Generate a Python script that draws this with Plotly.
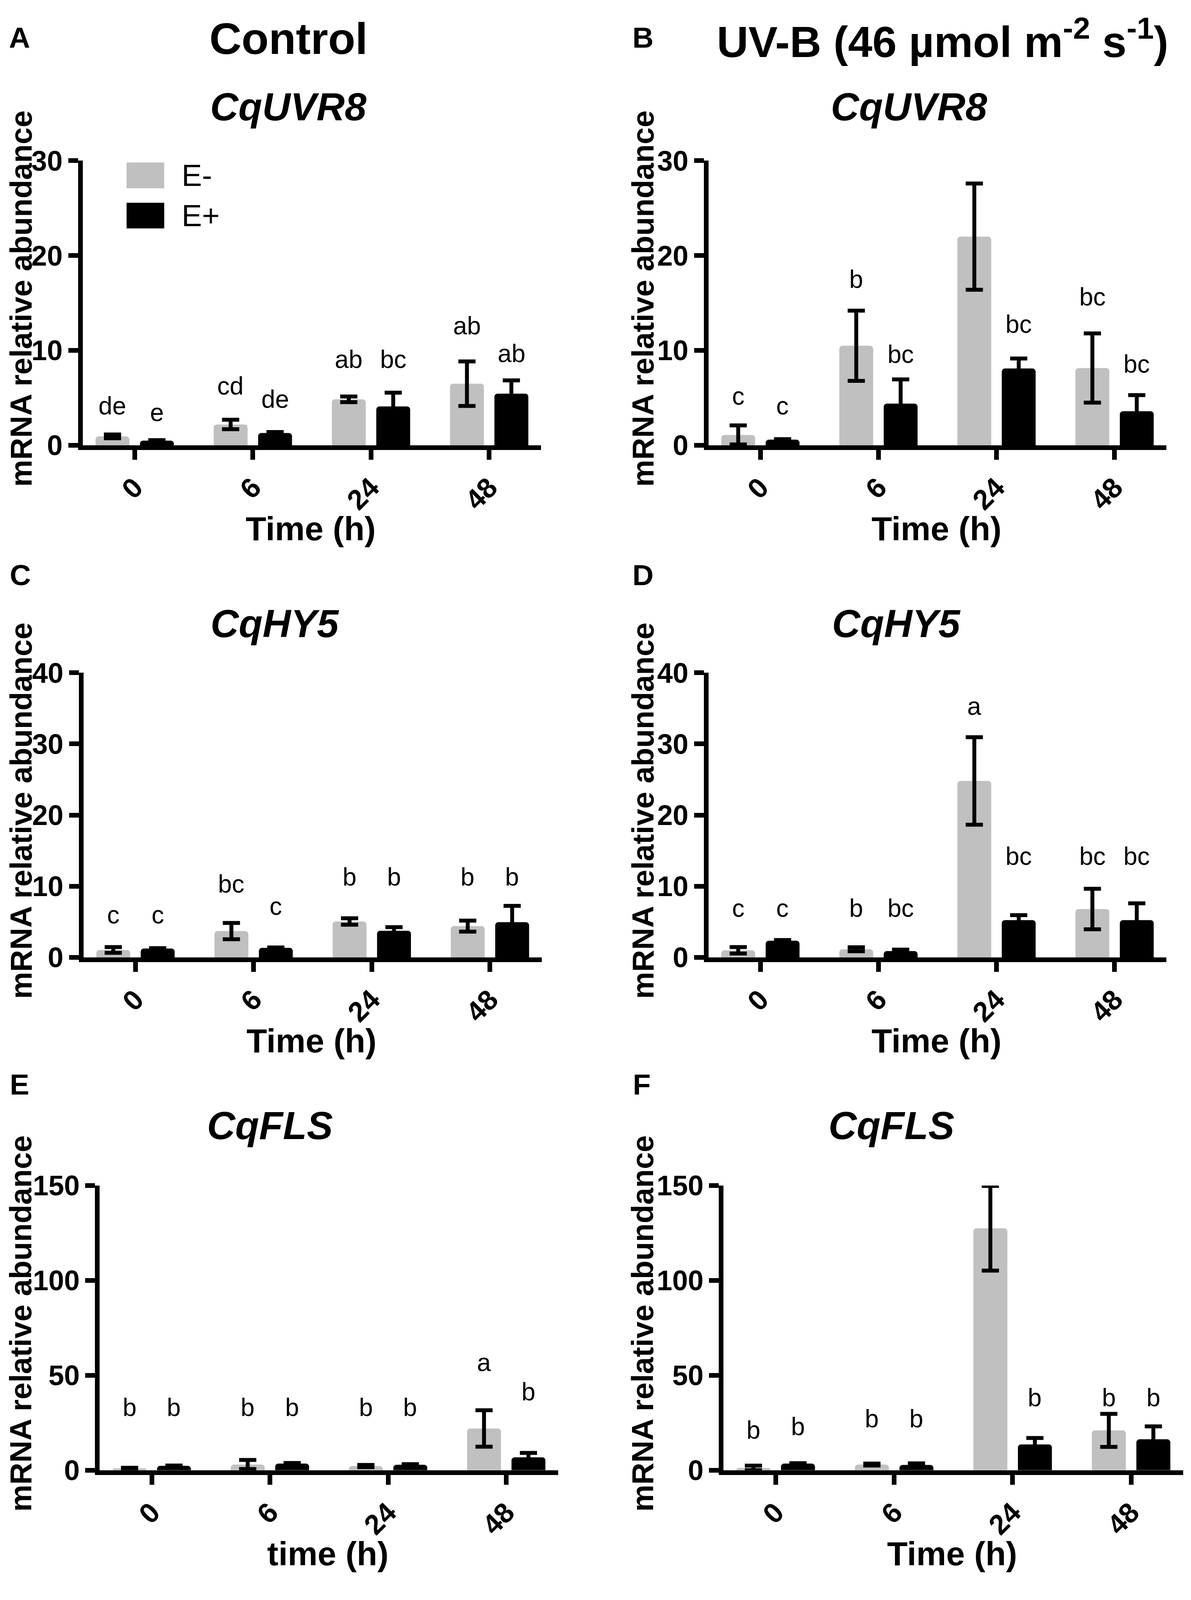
import plotly.graph_objects as go

# x categories (hours) and the two groups
times = ["0", "6", "24", "48"]
groups = ["E-", "E+"]

# A - Control, CqUVR8
a_mean_neg = [0.95, 2.2, 4.85, 6.5]
a_err_neg = [0.2, 0.5, 0.3, 2.35]
a_mean_pos = [0.5, 1.3, 4.1, 5.45]
a_err_pos = [0.05, 0.1, 1.45, 1.4]
a_sig_neg = ["de", "cd", "ab", "ab"]
a_sig_pos = ["e", "de", "bc", "ab"]
a_sig_y_neg = [4.15, 6.26, 9.07, 12.6]
a_sig_y_pos = [3.45, 4.85, 9.07, 9.67]

# B - UV-B, CqUVR8
b_mean_neg = [1.1, 10.5, 22.0, 8.15]
b_err_neg = [1.0, 3.7, 5.6, 3.65]
b_mean_pos = [0.6, 4.4, 8.1, 3.6]
b_err_pos = [0.05, 2.55, 1.05, 1.7]
b_sig_neg = ["c", "b", "a", "bc"]
b_sig_pos = ["c", "bc", "bc", "bc"]
b_sig_y_neg = [5.2, 17.5, 30.9, 15.65]
b_sig_y_pos = [4.15, 9.6, 12.77, 8.55]

# C - Control, CqHY5
c_mean_neg = [1.05, 3.7, 5.05, 4.4]
c_err_neg = [0.4, 1.15, 0.45, 0.78]
c_mean_pos = [1.25, 1.35, 3.75, 4.95]
c_err_pos = [0.05, 0.05, 0.5, 2.3]
c_sig_neg = ["c", "bc", "b", "b"]
c_sig_pos = ["c", "c", "b", "b"]
c_sig_y_neg = [6.0, 10.3, 11.3, 11.3]
c_sig_y_pos = [6.0, 7.2, 11.3, 11.3]

# D - UV-B, CqHY5
d_mean_neg = [1.0, 1.15, 24.8, 6.8]
d_err_neg = [0.45, 0.28, 6.15, 2.85]
d_mean_pos = [2.35, 0.9, 5.25, 5.25]
d_err_pos = [0.1, 0.2, 0.7, 2.35]
d_sig_neg = ["c", "b", "a", "bc"]
d_sig_pos = ["c", "bc", "bc", "bc"]
d_sig_y_neg = [6.9, 6.9, 35.3, 14.2]
d_sig_y_pos = [6.9, 6.9, 14.2, 14.2]

# E - Control, CqFLS
e_mean_neg = [1.0, 3.0, 2.2, 22.0]
e_err_neg = [0.3, 2.4, 0.6, 9.6]
e_mean_pos = [2.3, 3.5, 2.9, 6.8]
e_err_pos = [0.2, 0.3, 0.3, 2.3]
e_sig_neg = ["b", "b", "b", "a"]
e_sig_pos = ["b", "b", "b", "b"]
e_sig_y_neg = [33.0, 33.0, 33.0, 56.7]
e_sig_y_pos = [33.0, 33.0, 33.0, 41.3]

# F - UV-B, CqFLS
f_mean_neg = [1.2, 3.0, 127.5, 21.0]
f_err_neg = [1.2, 0.5, 22.3, 8.7]
f_mean_pos = [3.5, 2.8, 13.6, 16.3]
f_err_pos = [0.2, 0.8, 3.4, 6.8]
f_sig_neg = ["b", "b", "a", "b"]
f_sig_pos = ["b", "b", "b", "b"]
f_sig_y_neg = [21.2, 27.2, 158.5, 38.3]
f_sig_y_pos = [23.1, 27.2, 38.3, 38.3]

# reference page size (positions below are measured on it) and the drawn size
REF_W, REF_H = 3049, 4293
FIG_W, FIG_H = 3030, 4060
FONT = "Liberation Sans"
GREY = "#c0c0c0"
BARGAP = 0.248
GROUPGAP = 0.237


def fx(p):
    return p / REF_W


def fy(p):
    return 1 - p / REF_H


# layout of each panel, in reference pixels
panels = [
    dict(tag="A", gene="CqUVR8", xdom=(205, 1386), ydom=(392, 1178), ymax=30, dtick=10,
         xtitle="Time (h)", ytitle_x=46, gene_pos=(735, 243), tag_pos=(42, 52),
         neg=(a_mean_neg, a_err_neg, a_sig_neg, a_sig_y_neg),
         pos=(a_mean_pos, a_err_pos, a_sig_pos, a_sig_y_pos)),
    dict(tag="B", gene="CqUVR8", xdom=(1817, 2997), ydom=(392, 1178), ymax=30, dtick=10,
         xtitle="Time (h)", ytitle_x=1648, gene_pos=(2334, 243), tag_pos=(1648, 52),
         neg=(b_mean_neg, b_err_neg, b_sig_neg, b_sig_y_neg),
         pos=(b_mean_pos, b_err_pos, b_sig_pos, b_sig_y_pos)),
    dict(tag="C", gene="CqHY5", xdom=(207, 1388), ydom=(1806, 2592), ymax=40, dtick=10,
         xtitle="Time (h)", ytitle_x=46, gene_pos=(700, 1670), tag_pos=(44, 1536),
         neg=(c_mean_neg, c_err_neg, c_sig_neg, c_sig_y_neg),
         pos=(c_mean_pos, c_err_pos, c_sig_pos, c_sig_y_pos)),
    dict(tag="D", gene="CqHY5", xdom=(1817, 2997), ydom=(1806, 2592), ymax=40, dtick=10,
         xtitle="Time (h)", ytitle_x=1648, gene_pos=(2301, 1670), tag_pos=(1648, 1536),
         neg=(d_mean_neg, d_err_neg, d_sig_neg, d_sig_y_neg),
         pos=(d_mean_pos, d_err_pos, d_sig_pos, d_sig_y_pos)),
    dict(tag="E", gene="CqFLS", xdom=(249, 1430), ydom=(3222, 4008), ymax=150, dtick=50,
         xtitle="time (h)", ytitle_x=46, gene_pos=(687, 3056), tag_pos=(42, 2942),
         neg=(e_mean_neg, e_err_neg, e_sig_neg, e_sig_y_neg),
         pos=(e_mean_pos, e_err_pos, e_sig_pos, e_sig_y_pos)),
    dict(tag="F", gene="CqFLS", xdom=(1856, 3040), ydom=(3222, 4008), ymax=150, dtick=50,
         xtitle="Time (h)", ytitle_x=1648, gene_pos=(2288, 3056), tag_pos=(1645, 2942),
         neg=(f_mean_neg, f_err_neg, f_sig_neg, f_sig_y_neg),
         pos=(f_mean_pos, f_err_pos, f_sig_pos, f_sig_y_pos)),
]

fig = go.Figure()
annotations = []
slot = (1 - BARGAP) / 2


def label(x, y, text, size, **kw):
    d = dict(x=x, y=y, xref="paper", yref="paper", text=text, showarrow=False,
             xanchor="center", yanchor="middle", font=dict(family=FONT, size=size, color="black"))
    d.update(kw)
    annotations.append(d)


for n, p in enumerate(panels, start=1):
    xa = "x" if n == 1 else f"x{n}"
    ya = "y" if n == 1 else f"y{n}"
    for j, (name, color, series) in enumerate([(groups[0], GREY, p["neg"]), (groups[1], "black", p["pos"])]):
        mean, err, sig, sig_y = series
        fig.add_trace(go.Bar(
            x=times, y=mean, name=name, xaxis=xa, yaxis=ya,
            marker=dict(color=color, line_width=0, cornerradius=8),
            error_y=dict(type="data", array=err, visible=True, color="black", thickness=10, width=22),
            showlegend=False, hoverinfo="skip",
        ))
        # significance letters above each bar
        for i in range(len(times)):
            annotations.append(dict(
                x=i + (j - 0.5) * slot, y=sig_y[i], xref=xa, yref=ya,
                text=sig[i], showarrow=False, xanchor="center", yanchor="middle",
                font=dict(family=FONT, size=64, color="black"),
            ))

    axis_font = dict(family=FONT, size=72, color="black", weight="bold")
    fig.update_layout({
        ("xaxis" if n == 1 else f"xaxis{n}"): dict(
            domain=[fx(p["xdom"][0]), fx(p["xdom"][1])], anchor=ya, type="category",
            range=[-0.44, len(times) - 1 + 0.44], showline=True, linewidth=12, linecolor="black",
            ticks="outside", ticklen=25, tickwidth=12, tickcolor="black", tickangle=-45,
            tickfont=axis_font, showgrid=False, zeroline=False, fixedrange=True,
        ),
        ("yaxis" if n == 1 else f"yaxis{n}"): dict(
            domain=[fy(p["ydom"][1]), fy(p["ydom"][0])], anchor=xa,
            range=[0, p["ymax"]], tick0=0, dtick=p["dtick"], showline=True, linewidth=12,
            linecolor="black", ticks="outside", ticklen=25, tickwidth=12, tickcolor="black",
            tickfont=axis_font, showgrid=False, zeroline=False, fixedrange=True,
        ),
    })

    x0, x1 = p["xdom"]
    y0, y1 = p["ydom"]
    label(fx((x0 + x1) / 2 - 3), fy(y1 + 230), f"<b>{p['xtitle']}</b>", 86)
    label(fx(p["ytitle_x"]), fy((y0 + y1) / 2 - 12), "<b>mRNA relative abundance</b>", 78, textangle=-90)
    label(fx(p["gene_pos"][0]), fy(p["gene_pos"][1]), f"<b><i>{p['gene']}</i></b>", 100)
    label(fx(p["tag_pos"][0]), fy(p["tag_pos"][1]), f"<b>{p['tag']}</b>", 75)

# column headings
label(fx(735), fy(55), "<b>Control</b>", 114)
label(fx(2420), fy(55), "<b>UV-B (46 µmol m<sup>-2</sup> s<sup>-1</sup>)</b>", 112)

# legend of panel A
shapes = []
for k, (name, color) in enumerate([(groups[0], GREY), (groups[1], "black")]):
    top = 397 + k * 111
    shapes.append(dict(type="rect", xref="paper", yref="paper",
                       x0=fx(318), x1=fx(415), y0=fy(top + 71), y1=fy(top),
                       fillcolor=color, line_width=0))
    label(fx(458), fy(top + 36), name, 78, xanchor="left")

fig.update_layout(
    width=FIG_W, height=FIG_H,
    margin=dict(l=0, r=0, t=0, b=0),
    paper_bgcolor="white", plot_bgcolor="white",
    barmode="group", bargap=BARGAP, bargroupgap=GROUPGAP,
    showlegend=False,
    annotations=annotations,
    shapes=shapes,
    font=dict(family=FONT, color="black"),
)

fig.write_html("out.html")
